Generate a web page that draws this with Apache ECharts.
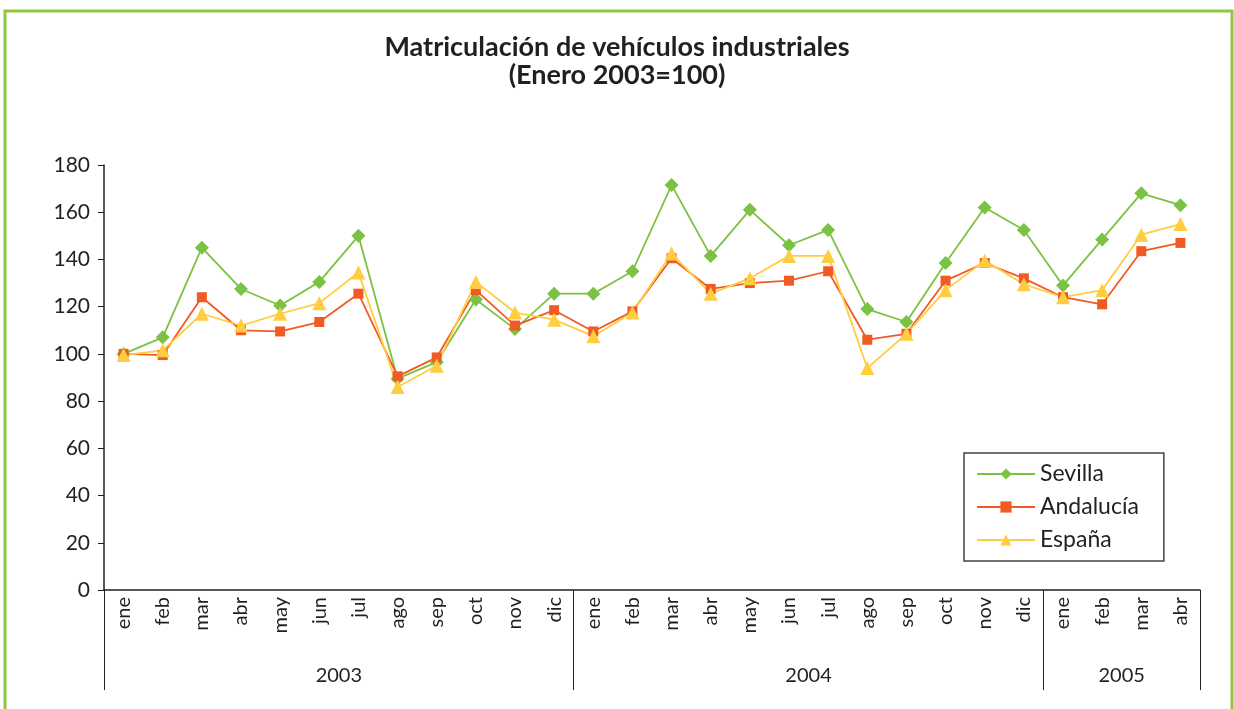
<!DOCTYPE html>
<html>
<head>
<meta charset="utf-8">
<script src="https://cdn.jsdelivr.net/npm/echarts@6/dist/echarts.min.js"></script>
<style>
  html, body { margin: 0; padding: 0; background: #fff; }
  #main { width: 1234px; height: 709px; }
</style>
</head>
<body>
<div id="main"></div>
<script>
var months = ['ene','feb','mar','abr','may','jun','jul','ago','sep','oct','nov','dic',
              'ene','feb','mar','abr','may','jun','jul','ago','sep','oct','nov','dic',
              'ene','feb','mar','abr'];
var years = ['2003', '2004', '2005'];
var monthsPerYear = [12, 12, 4];

var sevilla   = [100, 107, 145, 127.5, 120.5, 130.5, 150, 89.5, 96.5, 123, 110.5, 125.5,
                 125.5, 135, 171.5, 141.5, 161, 146, 152.5, 119, 113.5, 138.5, 162, 152.5,
                 129, 148.5, 168, 163];
var andalucia = [100, 99.5, 124, 110, 109.5, 113.5, 125.5, 90.5, 98.5, 127, 112, 118.5,
                 109.5, 118, 140.5, 127.5, 130, 131, 135, 106, 108.5, 131, 138.5, 132,
                 124, 121, 143.5, 147];
var espana    = [99.5, 101.5, 117, 112, 117, 121.5, 134.5, 86, 95, 130.5, 117.5, 114.5,
                 107.5, 117.5, 142.5, 125.5, 132, 141.5, 141.5, 94, 108.5, 127, 139.5, 129.5,
                 124, 127, 150.5, 155];

// year axis: half-month slots so that year labels sit in the middle of each block
var yearSlots = [];
var yearTicks = {};
var yearLabelAt = {};
var pos = 0;
yearTicks[0] = true;
for (var i = 0; i < years.length; i++) {
    yearLabelAt[pos + monthsPerYear[i]] = years[i];
    pos += monthsPerYear[i] * 2;
    yearTicks[pos] = true;
}
for (var k = 0; k <= pos; k++) {
    yearSlots.push(yearLabelAt[k] || '');
}

var font = 'Lato, "Open Sans", sans-serif';
var textColor = '#231f20';

var chart = echarts.init(document.getElementById('main'));
var option = {
    backgroundColor: '#fff',
    animation: false,
    title: {
        text: 'Matriculación de vehículos industriales\n(Enero 2003=100)',
        left: 'center',
        top: 28,
        textStyle: {
            fontFamily: font,
            fontSize: 27,
            fontWeight: 'bold',
            lineHeight: 28,
            color: textColor
        }
    },
    graphic: [{
        type: 'rect',
        shape: { x: 5, y: 11, width: 1227, height: 720 },
        style: { fill: 'none', stroke: '#8dc63f', lineWidth: 3 }
    }],
    legend: {
        orient: 'vertical',
        left: 964,
        top: 453,
        padding: [9, 25, 9, 12],
        borderColor: '#444',
        borderWidth: 1.5,
        itemWidth: 58,
        itemHeight: 14,
        itemGap: 9,
        textStyle: { fontFamily: font, fontSize: 23, lineHeight: 24, color: textColor },
        data: ['Sevilla', 'Andalucía', 'España']
    },
    grid: { left: 104, right: 34, top: 165, bottom: 119, containLabel: false },
    xAxis: [{
        type: 'category',
        data: months,
        boundaryGap: true,
        axisLine: { lineStyle: { color: '#231f20', width: 1.5 } },
        axisTick: { interval: 0, length: 55, lineStyle: { color: '#231f20', width: 1 } },
        axisLabel: {
            interval: 0, rotate: 90, margin: 7,
            fontFamily: font, fontSize: 20, color: textColor
        }
    }, {
        type: 'category',
        data: yearSlots,
        boundaryGap: false,
        position: 'bottom',
        offset: 0,
        axisLine: { show: false },
        axisTick: {
            length: 100,
            interval: function (idx) { return !!yearTicks[idx]; },
            lineStyle: { color: '#231f20', width: 1 }
        },
        axisLabel: {
            interval: 0, margin: 76,
            fontFamily: font, fontSize: 20, color: textColor
        }
    }],
    yAxis: {
        type: 'value',
        min: 0,
        max: 180,
        interval: 20,
        splitLine: { show: false },
        axisLine: { show: true, lineStyle: { color: '#231f20', width: 1.5 } },
        axisTick: { show: true, length: 6, lineStyle: { color: '#231f20' } },
        axisLabel: { margin: 14, fontFamily: font, fontSize: 21, color: textColor }
    },
    series: [{
        name: 'Sevilla',
        type: 'line',
        data: sevilla,
        symbol: 'diamond',
        symbolSize: 14,
        itemStyle: { color: '#7cc242' },
        lineStyle: { color: '#7cc242', width: 1.8 }
    }, {
        name: 'Andalucía',
        type: 'line',
        data: andalucia,
        symbol: 'rect',
        symbolSize: 10,
        itemStyle: { color: '#f15a24' },
        lineStyle: { color: '#f15a24', width: 1.8 }
    }, {
        name: 'España',
        type: 'line',
        data: espana,
        symbol: 'triangle',
        symbolSize: 14,
        itemStyle: { color: '#ffcd40' },
        lineStyle: { color: '#ffcd40', width: 1.8 }
    }]
};
chart.setOption(option);
window.addEventListener('resize', function () {
    chart.resize();
});
</script>
</body>
</html>
